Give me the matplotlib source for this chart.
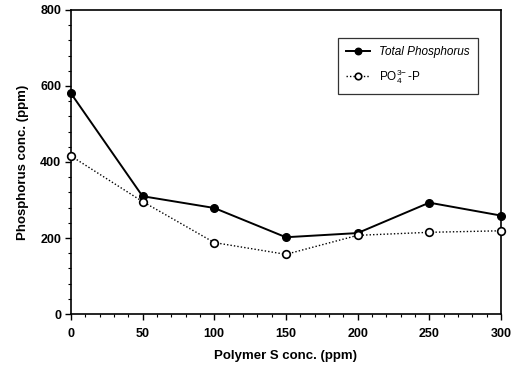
import numpy as np
import matplotlib.pyplot as plt
from matplotlib.ticker import MultipleLocator

plt.rcParams['font.family'] = ['Liberation Sans', 'DejaVu Sans']
plt.rcParams['mathtext.fontset'] = 'custom'
plt.rcParams['mathtext.rm'] = 'Liberation Sans'
plt.rcParams['mathtext.it'] = 'Liberation Sans:italic'

# data
polymer_conc = [0, 50, 100, 150, 200, 250, 300]
total_p = [581, 310, 279, 202, 213, 293, 259]
po4_p = [416, 296, 188, 157, 207, 215, 219]

fig = plt.figure(figsize=(5.17, 3.69), dpi=100)
ax = fig.add_axes([0.137, 0.149, 0.832, 0.824])

ax.plot(polymer_conc, total_p, color='black', linewidth=1.4, marker='o',
        markersize=5.5, markerfacecolor='black', label='Total Phosphorus', clip_on=False, zorder=3)
ax.plot(polymer_conc, po4_p, color='black', linewidth=1.0, linestyle=(0, (1, 1.5)),
        marker='o', markersize=5.5, markerfacecolor='white', markeredgewidth=1.2,
        label=r'PO$_4^{3\!-}$-P', clip_on=False, zorder=3)

ax.set_xlim(0, 300)
ax.set_ylim(0, 800)
ax.xaxis.set_major_locator(MultipleLocator(50))
ax.xaxis.set_minor_locator(MultipleLocator(10))
ax.yaxis.set_major_locator(MultipleLocator(200))
ax.yaxis.set_minor_locator(MultipleLocator(40))
ax.tick_params(which='major', direction='out', length=4, width=1.0, labelsize=9)
ax.tick_params(axis='x', which='major', pad=6)
ax.tick_params(axis='y', which='major', pad=3)
ax.tick_params(which='minor', direction='out', length=2.5, width=0.8)
for lab in ax.get_xticklabels() + ax.get_yticklabels():
    lab.set_fontweight('bold')

for sp in ax.spines.values():
    sp.set_linewidth(1.2)

ax.set_xlabel('Polymer S conc. (ppm)', fontsize=9.5, fontweight='bold', labelpad=7)
ax.set_ylabel('Phosphorus conc. (ppm)', fontsize=9.5, fontweight='bold', labelpad=8)

leg = ax.legend(loc='upper right', bbox_to_anchor=(0.9465, 0.908), borderaxespad=0,
                fontsize=8.5, frameon=True, fancybox=False, edgecolor='black',
                handlelength=2.0, borderpad=0.7, labelspacing=0.75, handletextpad=0.8,
                markerscale=0.85)
leg.get_frame().set_linewidth(0.9)
leg.get_texts()[0].set_fontstyle('italic')

fig.savefig('out.png', dpi=100)
